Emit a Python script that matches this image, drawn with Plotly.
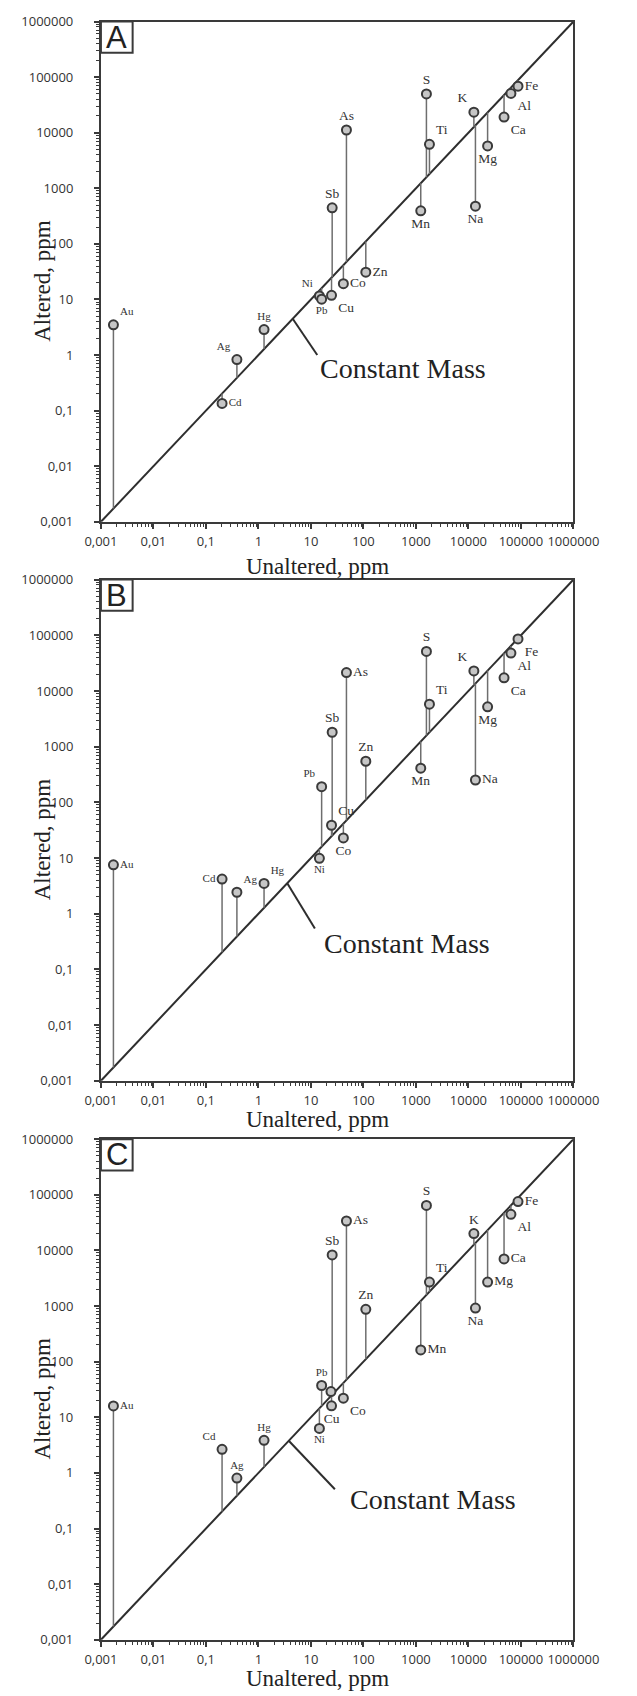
import math
import plotly.graph_objects as go

# ---------------- data ----------------
elements = ["Au", "Ag", "Cd", "Hg", "Ni", "Pb", "Cu", "Co", "Zn", "Sb",
            "As", "S", "Ti", "Mn", "K", "Na", "Mg", "Ca", "Al", "Fe"]
unaltered = [0.00173, 0.389, 0.203, 1.28, 14.5, 16.0, 24.7, 41.5, 111, 25.4,
             47.5, 1585, 1810, 1236, 12700, 13600, 23200, 47700, 64500, 88000]
altered_a = [3.5, 0.83, 0.135, 2.88, 11.6, 10.1, 11.9, 19.2, 31, 445,
             11200, 50000, 6200, 394, 23400, 478, 5800, 19100, 51000, 68900]
altered_b = [7.55, 2.43, 4.2, 3.5, 9.9, 191, 38.8, 23, 547, 1815,
             21400, 51300, 5780, 411, 22900, 252, 5190, 17200, 47900, 85900]
altered_c = [16, 0.81, 2.66, 3.85, 6.3, 37.3, 16.1, 22.1, 873, 8300,
             33800, 64300, 2700, 163, 20100, 920, 2700, 7050, 44500, 75700]
extra_c_x = [24.1]
extra_c_y = [29]

tick_vals = [0.001, 0.01, 0.1, 1, 10, 100, 1000, 10000, 100000, 1000000]
tick_text = ["0,001", "0,01", "0,1", "1", "10", "100", "1000", "10000", "100000", "1000000"]
panel_letters = ["A", "B", "C"]
x_title = "Unaltered, ppm"
y_title = "Altered, ppm"
cm_text = "Constant Mass"

# ---------------- styling / layout ----------------
pos_a = ["top right", "top left", "middle right", "top center", "top left", "bottom center",
         "bottom right", "middle right", "middle right", "top center", "top center", "top center",
         "top right", "bottom center", "top left", "bottom center", "bottom center",
         "bottom right", "bottom right", "middle right"]
pos_b = ["middle right", "top right", "middle left", "top right", "bottom center", "top left",
         "top right", "bottom center", "top center", "top center", "middle right", "top center",
         "top right", "bottom center", "top left", "middle right", "bottom center",
         "bottom right", "bottom right", "bottom right"]
pos_c = ["middle right", "top center", "top left", "top center", "bottom center", "top center",
         "bottom center", "bottom right", "top center", "top center", "middle right", "top center",
         "top right", "middle right", "top center", "bottom center", "middle right",
         "middle right", "bottom right", "middle right"]
small = {"Au", "Ag", "Cd", "Hg", "Ni", "Pb"}
label_sizes = [11 if e in small else 13.5 for e in elements]

W, H = 637, 1696
PX_L, PX_R = 90, 596.7
panels_px = [(12.7, 518.3), (576.7, 1083.3), (1142.3, 1648.3)]
# leader line start/end and text anchor (data units) per panel
cm_leader = [((4.5, 4.5), (13.2, 1.0), (13.8, 0.58)),
             ((3.54, 3.54), (11.9, 0.545), (16.5, 0.286)),
             ((3.78, 3.78), (28.6, 0.51), (50.4, 0.33))]
xt_y = [563, 1122, 1687]

DARK = "#2e2e2e"
AX = "#3a3a3a"
LINE = "#6e6e6e"
FILL = "#c6c6c6"

fig = go.Figure()
layout = dict(width=W, height=H, margin=dict(l=0, r=0, t=0, b=0),
              paper_bgcolor="white", plot_bgcolor="white", showlegend=False)
annotations = []
shapes = []

minor_vals = [k * 10.0 ** e for e in range(-3, 6) for k in range(2, 10)]
xd = [PX_L / W, PX_R / W]

for i, (alt, pos) in enumerate(zip([altered_a, altered_b, altered_c], [pos_a, pos_b, pos_c])):
    sfx = "" if i == 0 else str(i + 1)
    xr, yr = "x" + sfx, "y" + sfx
    top, bot = panels_px[i]
    yd = [1 - bot / H, 1 - top / H]
    axis_common = dict(type="log", range=[-3, 6], tickmode="array", tickvals=tick_vals,
                       ticktext=tick_text, ticks="outside", ticklen=5, tickwidth=1.5,
                       tickcolor=AX, showline=True, linecolor=AX, linewidth=2, mirror=True,
                       showgrid=False, zeroline=False,
                       minor=dict(ticks="outside", ticklen=3, tickwidth=1, tickcolor=AX,
                                  tickmode="array", tickvals=minor_vals, showgrid=False),
                       tickfont=dict(family="Open Sans", size=13, color="#333"))
    layout["xaxis" + sfx] = dict(axis_common, domain=xd, anchor=yr, ticklabelstandoff=2)
    layout["yaxis" + sfx] = dict(axis_common, domain=yd, anchor=xr, ticklabelstandoff=18)

    # diagonal constant-mass line
    fig.add_trace(go.Scatter(x=[tick_vals[0], tick_vals[-1]], y=[tick_vals[0], tick_vals[-1]],
                             mode="lines", line=dict(color=DARK, width=2),
                             xaxis=xr, yaxis=yr, hoverinfo="skip"))
    # vertical connectors
    lx, ly = [], []
    for xv, yv in zip(unaltered, alt):
        lx += [xv, xv, None]
        ly += [xv, yv, None]
    if i == 2:
        for xv, yv in zip(extra_c_x, extra_c_y):
            lx += [xv, xv, None]
            ly += [xv, yv, None]
    fig.add_trace(go.Scatter(x=lx, y=ly, mode="lines", line=dict(color=LINE, width=1.5),
                             xaxis=xr, yaxis=yr, hoverinfo="skip"))
    # leader line to "Constant Mass"
    (s0, s1), (e0, e1), (t0, t1) = cm_leader[i]
    fig.add_trace(go.Scatter(x=[s0, e0], y=[s1, e1], mode="lines",
                             line=dict(color=DARK, width=2), xaxis=xr, yaxis=yr,
                             hoverinfo="skip"))
    # points
    if i == 2:
        fig.add_trace(go.Scatter(x=extra_c_x, y=extra_c_y, mode="markers",
                                 marker=dict(size=9, color=FILL,
                                             line=dict(color=AX, width=2)),
                                 xaxis=xr, yaxis=yr))
    fig.add_trace(go.Scatter(x=unaltered, y=alt, mode="markers+text", text=elements,
                             textposition=pos,
                             textfont=dict(family="Liberation Serif", size=label_sizes,
                                           color="#333"),
                             marker=dict(size=9, color=FILL,
                                         line=dict(color=AX, width=2)),
                             xaxis=xr, yaxis=yr))
    annotations.append(dict(x=math.log10(t0), y=math.log10(t1), xref=xr, yref=yr,
                            text=cm_text, showarrow=False, xanchor="left", yanchor="middle",
                            font=dict(family="Liberation Serif", size=28, color="#222")))
    # panel letter box
    shapes.append(dict(type="rect", xref=xr + " domain", yref=yr + " domain",
                       x0=0, x1=34 / (PX_R - PX_L), y0=1 - 31.6 / (bot - top), y1=1,
                       line=dict(color=AX, width=2), fillcolor="white"))
    annotations.append(dict(x=17 / (PX_R - PX_L), y=1 - 15.8 / (bot - top),
                            xref=xr + " domain", yref=yr + " domain", text=panel_letters[i],
                            showarrow=False, xanchor="center", yanchor="middle",
                            font=dict(family="Liberation Sans", size=31, color="#222")))
    # axis titles
    annotations.append(dict(x=27 / W, y=1 - ((top + bot) / 2 + 10) / H, xref="paper",
                            yref="paper", text=y_title, textangle=-90, showarrow=False,
                            xanchor="center", yanchor="middle",
                            font=dict(family="Liberation Serif", size=23, color="#222")))
    annotations.append(dict(x=322 / W, y=1 - xt_y[i] / H, xref="paper", yref="paper",
                            text=x_title, showarrow=False, xanchor="center", yanchor="middle",
                            font=dict(family="Liberation Serif", size=23, color="#222")))

layout["annotations"] = annotations
layout["shapes"] = shapes
fig.update_layout(**layout)
fig.write_html("out.html")
